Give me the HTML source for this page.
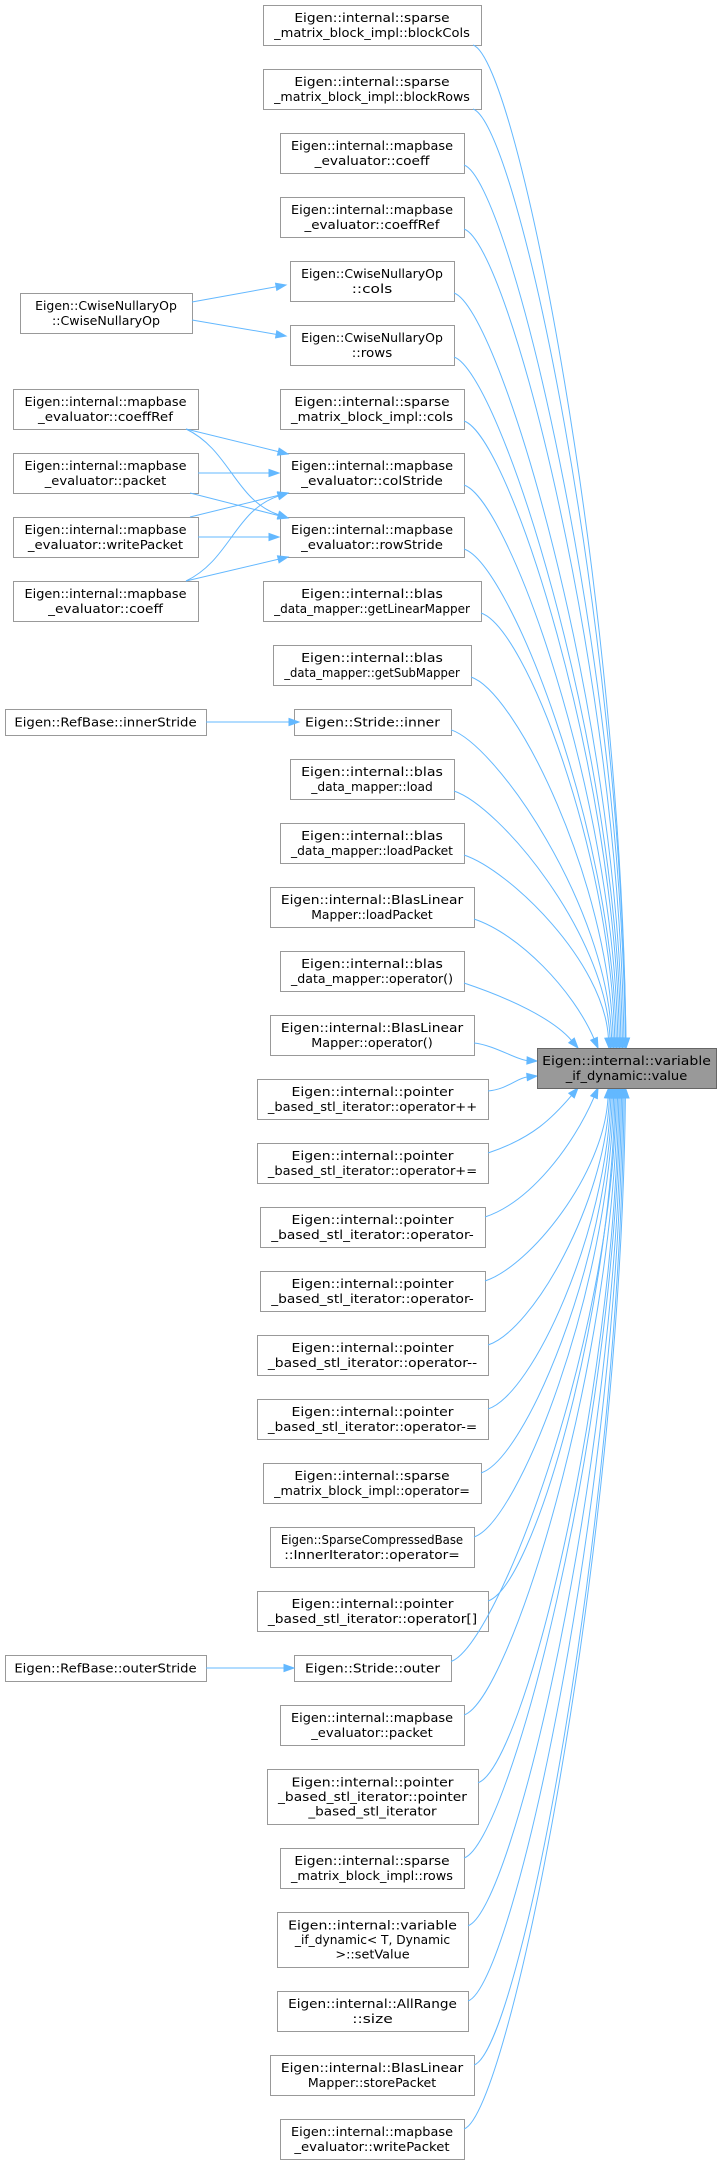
<!DOCTYPE html>
<html><head><meta charset="utf-8"><style>
html,body{margin:0;padding:0;background:#fff;width:717px;height:2168px;overflow:hidden}
svg{display:block}
text{font-family:"DejaVu Sans","Liberation Sans",sans-serif;font-size:12.3px;fill:#000}
</style></head><body>
<svg id="g" width="717" height="2168" xmlns="http://www.w3.org/2000/svg"></svg>
<script>
var S=document.getElementById('g'),NS='http://www.w3.org/2000/svg';
function el(n,a,t){var e=document.createElementNS(NS,n);for(var k in a)e.setAttribute(k,a[k]);if(t!=null)e.textContent=t;S.appendChild(e);return e;}
var CW=6.75,LH=14.6;
function box(x,y,w,lines,fill,stroke){
  var h=lines.length==1?26:(lines.length==2?40:55);
  el('rect',{x:x+0.5,y:y+0.5,width:w,height:h,fill:fill||'#fff',stroke:stroke||'#999','stroke-width':1});
  var cy=y+h/2-(lines.length-1)*LH/2;
  lines.forEach(function(l,i){
    el('text',{x:x+w/2,y:cy+i*LH+4.5,'text-anchor':'middle',textLength:(l.length*CW).toFixed(1),lengthAdjust:'spacingAndGlyphs'},l);
  });
  return {x:x,y:y,w:w,h:h};
}
var C='#63b8ff';
function arrow(x1,y1,x2,y2){
  var dx=x2-x1,dy=y2-y1,L=Math.sqrt(dx*dx+dy*dy);dx/=L;dy/=L;
  var bx=x2-dx*10,by=y2-dy*10,px=-dy*3.6,py=dx*3.6;
  el('polygon',{points:x2+','+y2+' '+(bx+px)+','+(by+py)+' '+(bx-px)+','+(by-py),fill:C,stroke:C});
}
function line(x1,y1,x2,y2){el('path',{d:'M'+x1+','+y1+'L'+(x2-(x2-x1)*10/Math.hypot(x2-x1,y2-y1))+','+(y2-(y2-y1)*10/Math.hypot(x2-x1,y2-y1)),fill:'none',stroke:C,'stroke-width':1});arrow(x1,y1,x2,y2);}
function curve(x1,y1,c1x,c1y,c2x,c2y,x2,y2){
  var dx=x2-c2x,dy=y2-c2y,L=Math.hypot(dx,dy);
  el('path',{d:'M'+x1+','+y1+'C'+c1x+','+c1y+' '+c2x+','+c2y+' '+(x2-dx/L*10)+','+(y2-dy/L*10),fill:'none',stroke:C,'stroke-width':1});
  arrow(c2x,c2y,x2,y2);
}
var N=[
["Eigen::internal::sparse","_matrix_block_impl::blockCols"],
["Eigen::internal::sparse","_matrix_block_impl::blockRows"],
["Eigen::internal::mapbase","_evaluator::coeff"],
["Eigen::internal::mapbase","_evaluator::coeffRef"],
["Eigen::CwiseNullaryOp","::cols"],
["Eigen::CwiseNullaryOp","::rows"],
["Eigen::internal::sparse","_matrix_block_impl::cols"],
["Eigen::internal::mapbase","_evaluator::colStride"],
["Eigen::internal::mapbase","_evaluator::rowStride"],
["Eigen::internal::blas","_data_mapper::getLinearMapper"],
["Eigen::internal::blas","_data_mapper::getSubMapper"],
["Eigen::Stride::inner"],
["Eigen::internal::blas","_data_mapper::load"],
["Eigen::internal::blas","_data_mapper::loadPacket"],
["Eigen::internal::BlasLinear","Mapper::loadPacket"],
["Eigen::internal::blas","_data_mapper::operator()"],
["Eigen::internal::BlasLinear","Mapper::operator()"],
["Eigen::internal::pointer","_based_stl_iterator::operator++"],
["Eigen::internal::pointer","_based_stl_iterator::operator+="],
["Eigen::internal::pointer","_based_stl_iterator::operator-"],
["Eigen::internal::pointer","_based_stl_iterator::operator-"],
["Eigen::internal::pointer","_based_stl_iterator::operator--"],
["Eigen::internal::pointer","_based_stl_iterator::operator-="],
["Eigen::internal::sparse","_matrix_block_impl::operator="],
["Eigen::SparseCompressedBase","::InnerIterator::operator="],
["Eigen::internal::pointer","_based_stl_iterator::operator[]"],
["Eigen::Stride::outer"],
["Eigen::internal::mapbase","_evaluator::packet"],
["Eigen::internal::pointer","_based_stl_iterator::pointer","_based_stl_iterator"],
["Eigen::internal::sparse","_matrix_block_impl::rows"],
["Eigen::internal::variable","_if_dynamic< T, Dynamic",">::setValue"],
["Eigen::internal::AllRange","::size"],
["Eigen::internal::BlasLinear","Mapper::storePacket"],
["Eigen::internal::mapbase","_evaluator::writePacket"]];
var V={x:537,y:1048,w:179,h:40};
var y=5,B=[];
N.forEach(function(l){
  var m=0;l.forEach(function(s){m=Math.max(m,s.length)});
  var w=Math.round(m*CW+22);if(w<146)w=146;
  var b=box(Math.round(372-w/2),y,w,l);B.push(b);
  y+=b.h+24;
});
B.forEach(function(b,i){
  var rx=b.x+b.w, sy=b.y+b.h*0.8;
  if(i==16){curve(rx,b.y+b.h*0.7,rx+20,b.y+b.h*0.75,V.x-20,1060,V.x,1061);return;}
  if(i==17){curve(rx,b.y+b.h*0.3,rx+20,b.y+b.h*0.25,V.x-20,1078,V.x,1076);return;}
  if(i<16){
    var d=15-i, tx=d==0?578:(d==1?598:Math.min(626,606+d*1.5));
    sy=b.y+b.h*(i<2?1:0.8);
    var sx=i<2?b.x+b.w-8:rx;
    curve(sx,sy,sx+45,sy+15,tx-(d<2?25:5),V.y-(V.y-sy)*0.45,tx,V.y);
  } else {
    var d=i-18, tx=d==0?578:(d==1?598:Math.min(626,606+d*1.3));
    sy=b.y+b.h*0.25;
    curve(rx,sy,rx+45,sy-15,tx-(d<2?25:5),V.y+V.h+(sy-V.y-V.h)*0.45,tx,V.y+V.h);
  }
});
box(V.x,V.y,V.w,["Eigen::internal::variable","_if_dynamic::value"],'#999','#666');
box(20,293,172,["Eigen::CwiseNullaryOp","::CwiseNullaryOp"]);
line(192,302,286,285);line(192,320,286,336);
box(13,389,185,["Eigen::internal::mapbase","_evaluator::coeffRef"]);
box(13,453,185,["Eigen::internal::mapbase","_evaluator::packet"]);
box(13,517,185,["Eigen::internal::mapbase","_evaluator::writePacket"]);
box(13,581,185,["Eigen::internal::mapbase","_evaluator::coeff"]);
line(186,429,288,454);
curve(186,429,230,450,235,500,288,518);
line(198,473,279,473);
line(190,493,288,518);
line(190,517,288,493);
line(198,537,279,537);
curve(186,581,230,560,235,510,288,493);
line(186,581,288,557);
box(5,709,201,["Eigen::RefBase::innerStride"]);
line(206,722,299,722);
var ob=B[26];
box(5,ob.y,201,["Eigen::RefBase::outerStride"]);
line(206,ob.y+13,ob.x,ob.y+13);
</script>
</body></html>
